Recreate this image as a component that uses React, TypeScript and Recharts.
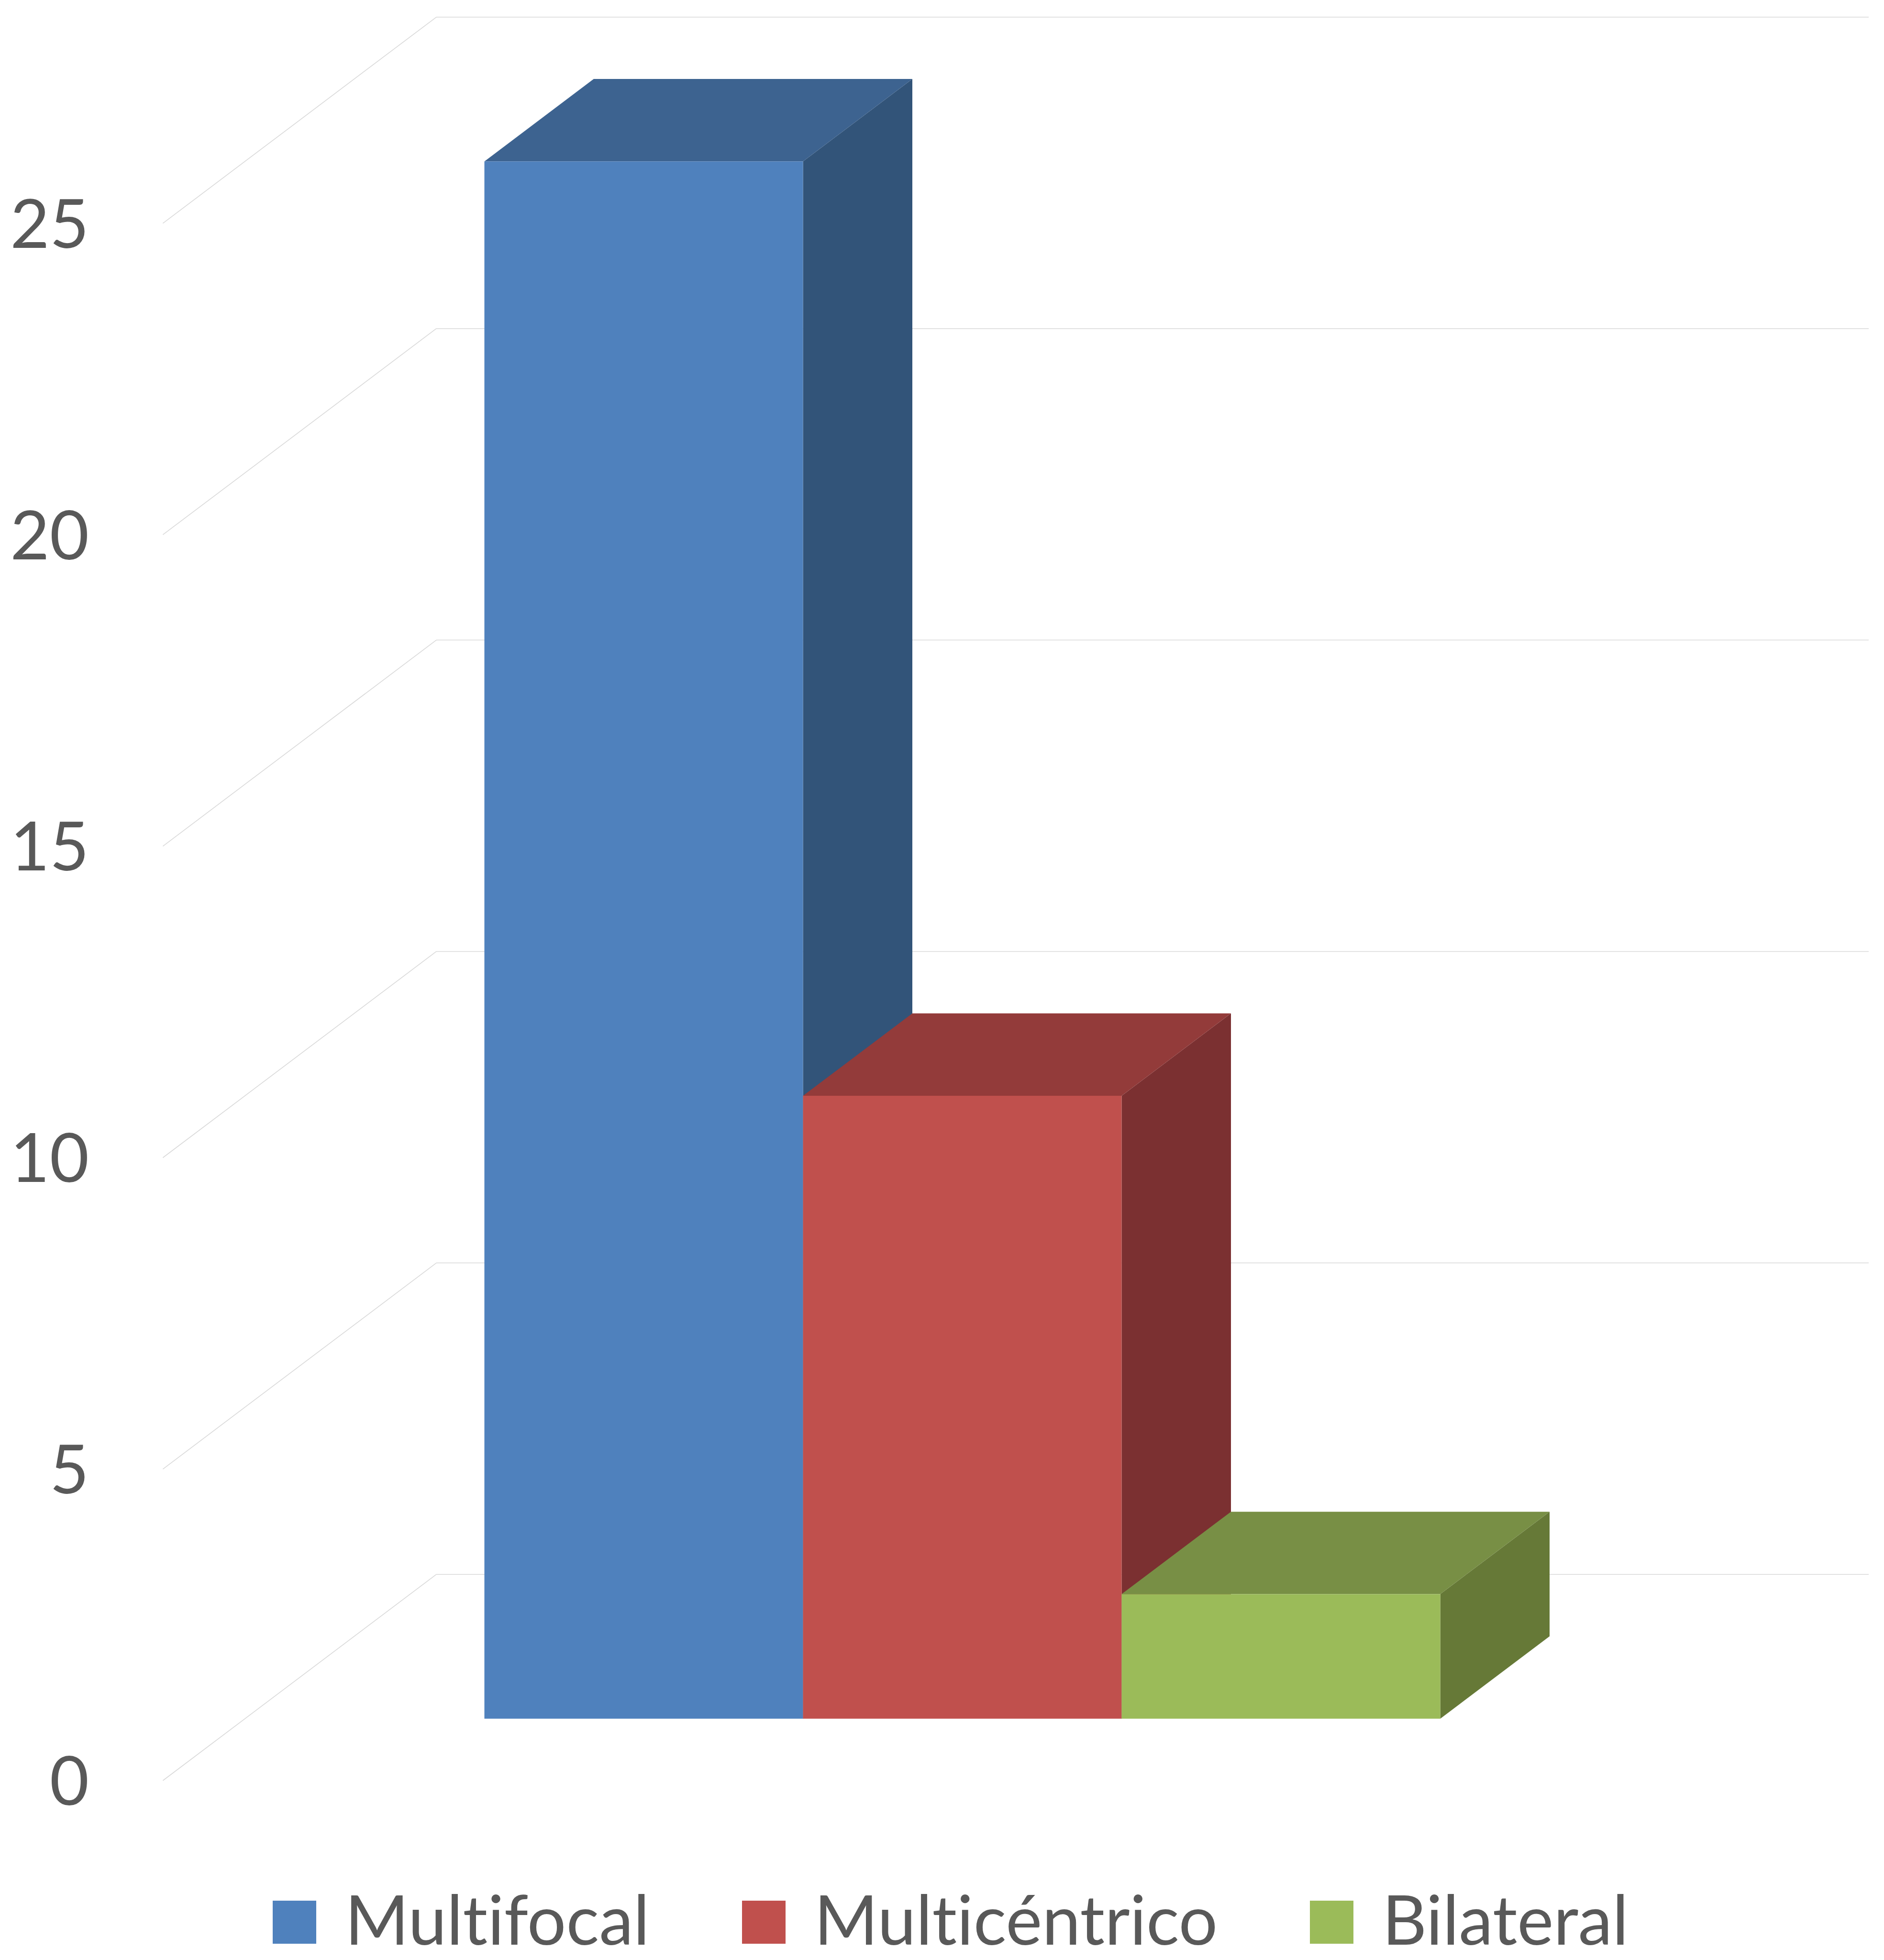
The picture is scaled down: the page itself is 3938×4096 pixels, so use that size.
import { BarChart, Bar, XAxis, YAxis, CartesianGrid, Legend } from "recharts";

// values
const category = "Casos";
const seriesNames = ["Multifocal", "Multicéntrico", "Bilateral"];
const seriesValues = [25, 10, 2];
const yTicks = [0, 5, 10, 15, 20, 25];

const frontColors = ["#4F81BD", "#C0504D", "#9BBB59"];
const topColors = ["#3D6390", "#933B3A", "#788F45"];
const sideColors = ["#325479", "#7B3031", "#667937"];

const data = [
  seriesNames.reduce(
    (row: Record<string, any>, name, i) => {
      row[name] = seriesValues[i];
      return row;
    },
    { name: category }
  ),
];

const W = 3938;
const H = 4096;
const FONT = "Lato, 'Open Sans', sans-serif";
const TEXT = "#595959";

// 3d offsets, relative to the plane of the bar fronts
const DEPTH_X = 228.5;
const DEPTH_Y = -172.2;
const FRONT_DX = -672;
const FRONT_DY = 129.3;
const BACK_DX = -100.5;
const BACK_DY = -301.5;
const WALL_RIGHT = 3906;
const LEGEND_TOP = 3951;
const LEGEND_H = 115;

function WallLine(props: any) {
  const { x1, y1 } = props;
  const fx = x1 + FRONT_DX;
  const fy = y1 + FRONT_DY;
  const bx = x1 + BACK_DX;
  const by = y1 + BACK_DY;
  return (
    <g>
      <line x1={fx} y1={fy} x2={bx} y2={by} stroke="#D9D9D9" strokeWidth={1.6} />
      <line x1={bx} y1={by} x2={WALL_RIGHT} y2={by} stroke="#D9D9D9" strokeWidth={1.6} />
    </g>
  );
}

function Prism(props: any) {
  const { x, y, width: w, height: h, idx } = props;
  if (w == null || h == null) return null;
  const top = `${x},${y} ${x + DEPTH_X},${y + DEPTH_Y} ${x + w + DEPTH_X},${y + DEPTH_Y} ${x + w},${y}`;
  const side = `${x + w},${y} ${x + w + DEPTH_X},${y + DEPTH_Y} ${x + w + DEPTH_X},${y + h + DEPTH_Y} ${x + w},${y + h}`;
  return (
    <g>
      <polygon points={side} fill={sideColors[idx]} />
      <polygon points={top} fill={topColors[idx]} />
      <rect x={x} y={y} width={w} height={h} fill={frontColors[idx]} />
    </g>
  );
}

function YTick({ y, payload }: any) {
  return (
    <text
      x={186}
      y={y + FRONT_DY}
      dy="0.36em"
      textAnchor="end"
      fill={TEXT}
      fontFamily={FONT}
      fontSize={142}
    >
      {payload.value}
    </text>
  );
}

function LegendRow() {
  return (
    <div
      style={{
        display: "flex",
        justifyContent: "center",
        alignItems: "flex-end",
        height: LEGEND_H,
        fontFamily: FONT,
        fontSize: 144,
        fontVariantLigatures: "none",
        color: TEXT,
        paddingLeft: 36,
      }}
    >
      {seriesNames.map((name, i) => (
        <div
          key={name}
          style={{ display: "flex", alignItems: "flex-end", marginRight: i < seriesNames.length - 1 ? 193 : 0 }}
        >
          <span
            style={{
              width: 91,
              height: 90,
              background: frontColors[i],
              marginRight: 60,
              marginBottom: 4,
              display: "inline-block",
            }}
          />
          <span style={{ lineHeight: 0.8, whiteSpace: "nowrap" }}>{name}</span>
        </div>
      ))}
    </div>
  );
}

export default function App() {
  return (
    <div style={{ width: W, height: H, background: "#fff" }}>
      <style>{"body{margin:0}"}</style>
      <BarChart
        width={W}
        height={H}
        data={data}
        barCategoryGap={0}
        barGap={0}
        margin={{ top: 337.3, right: 926.9, bottom: 504.3 - LEGEND_H, left: 12.5 }}
      >
        <CartesianGrid vertical={false} horizontal={(p: any) => <WallLine {...p} />} />
        <XAxis dataKey="name" hide />
        <YAxis
          type="number"
          domain={[0, 25]}
          ticks={yTicks}
          width={1000}
          axisLine={false}
          tickLine={false}
          tick={<YTick />}
        />
        <Legend
          verticalAlign="bottom"
          wrapperStyle={{ top: LEGEND_TOP, bottom: "auto", left: 0, width: W, height: LEGEND_H }}
          content={() => <LegendRow />}
        />
        {seriesNames.map((name, i) => (
          <Bar
            key={name}
            dataKey={name}
            isAnimationActive={false}
            shape={(p: any) => <Prism {...p} idx={i} />}
          />
        ))}
      </BarChart>
    </div>
  );
}
